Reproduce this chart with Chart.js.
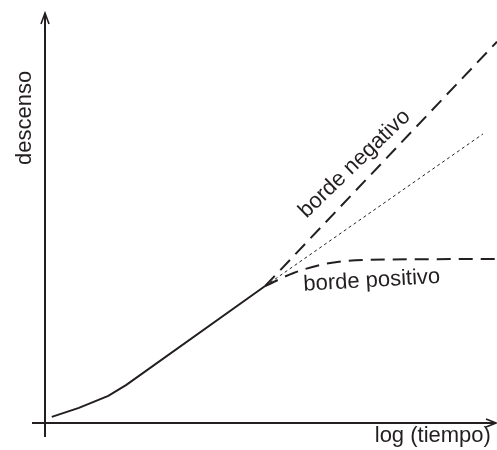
<!DOCTYPE html>
<html>
<head>
<meta charset="utf-8">
<script src="https://cdn.jsdelivr.net/npm/chart.js@4"></script>
<style>
  html, body { margin: 0; padding: 0; background: #fff; }
  #wrap { width: 497px; height: 450px; }
</style>
</head>
<body>
<div id="wrap"><canvas id="chart"></canvas></div>
<script>
// DATA (x = log tiempo, y = descenso, arbitrary units)
const solidX = [0.15, 0.75, 1.4, 1.8, 4.87];
const solidY = [0.15, 0.37, 0.66, 0.93, 3.34];
const negX = [4.87, 10.0];
const negY = [3.34, 9.3];
const refX = [4.87, 9.69];
const refY = [3.34, 7.05];
const posX = [4.87, 5.5, 6.2, 7.2, 10.0];
const posY = [3.34, 3.66, 3.88, 3.98, 4.0];
const xTitle = "log (tiempo)";
const yTitle = "descenso";
const negLabel = "borde negativo";
const posLabel = "borde positivo";

const ink = "#231f20";
const pts = (xs, ys) => xs.map((x, i) => ({ x: x, y: ys[i] }));

// axes with arrows + texts
const decor = {
  id: "decor",
  afterDatasetsDraw(chart) {
    const c = chart.ctx, xs = chart.scales.x, ys = chart.scales.y;
    const x0 = xs.getPixelForValue(0), y0 = ys.getPixelForValue(0);
    const xEnd = xs.getPixelForValue(10), yEnd = ys.getPixelForValue(10);
    c.save();
    c.strokeStyle = ink;
    c.lineWidth = 2;
    c.beginPath();
    c.moveTo(x0, y0 + 14); c.lineTo(x0, yEnd);
    c.moveTo(x0 - 13, y0); c.lineTo(xEnd - 1, y0);
    c.stroke();
    // arrow heads
    c.lineWidth = 1.6;
    c.beginPath();
    c.moveTo(x0 - 4, yEnd + 11); c.lineTo(x0, yEnd); c.lineTo(x0 + 4, yEnd + 11);
    c.moveTo(xEnd - 11, y0 - 4); c.lineTo(xEnd - 1, y0); c.lineTo(xEnd - 11, y0 + 4);
    c.stroke();

    c.fillStyle = ink;
    c.font = "22px 'Liberation Sans', Arial, sans-serif";
    c.textAlign = "center";
    c.textBaseline = "middle";
    const txt = (s, x, y, deg) => {
      c.save();
      c.translate(xs.getPixelForValue(x), ys.getPixelForValue(y));
      c.rotate(deg * Math.PI / 180);
      c.fillText(s, 0, 0);
      c.restore();
    };
    txt(xTitle, 8.58, -0.32, 0);
    txt(yTitle, -0.44, 7.44, -90);
    txt(negLabel, 6.85, 6.32, -44);
    txt(posLabel, 7.23, 3.47, -3.3);
    c.restore();
  }
};

new Chart(document.getElementById("chart"), {
  type: "line",
  data: {
    datasets: [
      { data: pts(solidX, solidY), borderColor: ink, borderWidth: 2 },
      { data: pts(negX, negY), borderColor: ink, borderWidth: 2, borderDash: [14, 8] },
      { data: pts(refX, refY), borderColor: ink, borderWidth: 1, borderDash: [3, 3] },
      { data: pts(posX, posY), borderColor: ink, borderWidth: 2, borderDash: [14, 8], cubicInterpolationMode: "monotone" }
    ]
  },
  options: {
    responsive: true,
    maintainAspectRatio: false,
    animation: false,
    layout: { padding: { left: 45, right: 0, top: 13, bottom: 27 } },
    elements: { point: { radius: 0 }, line: { fill: false } },
    datasets: { line: { clip: false } },
    plugins: { legend: { display: false }, tooltip: { enabled: false } },
    scales: {
      x: { type: "linear", min: 0, max: 10, display: false },
      y: { type: "linear", min: 0, max: 10, display: false }
    }
  },
  plugins: [decor]
});
</script>
</body>
</html>
